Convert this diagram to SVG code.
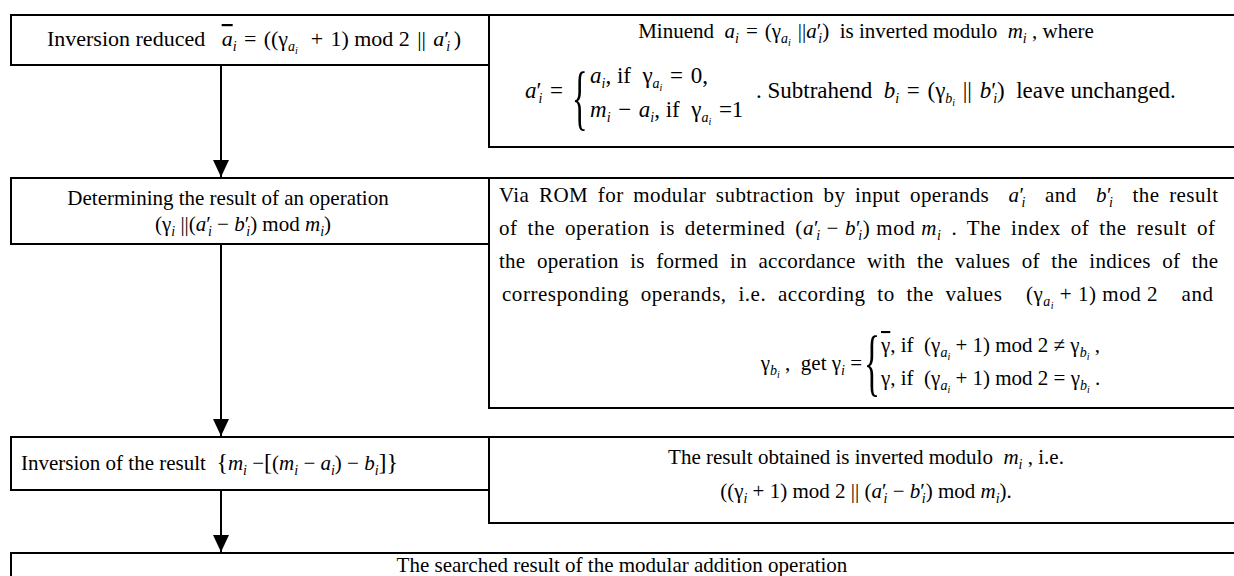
<svg xmlns="http://www.w3.org/2000/svg" width="1234" height="576" viewBox="0 0 1234 576">
  <style>
    .t { font-family: "Liberation Serif", "Times New Roman", serif; font-size: 21px; fill: #000; }
    .m { font-size: 23px; }
    .h { font-size: 22px; }
    .i { font-style: italic; }
    .sb { font-size: 14px; }
    .ss { font-size: 10px; }
    .ov { text-decoration: overline; }
    .br { font-family: "Liberation Serif", "Times New Roman", serif; fill: #000; }
    .box { fill: #fff; stroke: #000; stroke-width: 2; }
    .arr { fill: none; stroke: #000; stroke-width: 2; }
  </style>
  <defs>
    <marker id="ah" viewBox="0 0 17 16" refX="17" refY="8" markerWidth="17" markerHeight="16" markerUnits="userSpaceOnUse" orient="auto">
      <polygon points="0,0 17,8 0,16" fill="#000"/>
    </marker>
  </defs>
  <rect width="1234" height="576" fill="#fff"/>

  <!-- step 1: inversion of the minuend -->
  <g id="step1">
    <rect class="box" x="11" y="15" width="478" height="50"/>
    <text class="t h" x="254" y="46" text-anchor="middle">Inversion reduced&#160;&#160; <tspan class="i ov">a</tspan><tspan class="sb i" dy="5">i</tspan><tspan dy="-5">&#8196;=&#8196;((γ</tspan><tspan class="sb i" dy="5">a</tspan><tspan class="ss i" dy="3">i</tspan><tspan dy="-8">&#8196;&#8197;+&#8196;1)&#8197;mod&#8197;2&#8196;||&#8196;</tspan><tspan class="i">a</tspan>′<tspan class="sb i" dx="-3" dy="5">i</tspan><tspan dy="-5">&#8198;)</tspan></text>
  </g>
  <g id="step1-note">
    <rect class="box" x="489" y="15" width="760" height="132"/>
    <text class="t" x="866" y="38" text-anchor="middle">Minuend&#160; <tspan class="i">a</tspan><tspan class="sb i" dy="5">i</tspan><tspan dy="-5">&#8196;=&#8196;(γ</tspan><tspan class="sb i" dy="5">a</tspan><tspan class="ss i" dy="3">i</tspan><tspan dy="-8">&#8196;||</tspan><tspan class="i">a</tspan>′<tspan class="sb i" dx="-3" dy="5">i</tspan><tspan dy="-5">)&#160; is inverted modulo&#160; </tspan><tspan class="i">m</tspan><tspan class="sb i" dy="5">i</tspan><tspan dy="-5"> , where</tspan></text>
    <text class="t m" x="525" y="98"><tspan class="i">a</tspan>′<tspan class="sb i" dx="-3" dy="5">i</tspan><tspan dy="-5">&#8196;=</tspan></text>
    <text class="br" font-size="72" transform="translate(572,121) scale(0.45,1)">{</text>
    <text class="t m" x="590" y="83"><tspan class="i">a</tspan><tspan class="sb i" dy="5">i</tspan><tspan dy="-5">, if&#160; γ</tspan><tspan class="sb i" dy="5">a</tspan><tspan class="ss i" dy="3">i</tspan><tspan dy="-8">&#8196;=&#8196;0,</tspan></text>
    <text class="t m" x="590" y="117"><tspan class="i">m</tspan><tspan class="sb i" dy="5">i</tspan><tspan dy="-5">&#8196;−&#8196;</tspan><tspan class="i">a</tspan><tspan class="sb i" dy="5">i</tspan><tspan dy="-5">, if&#160; γ</tspan><tspan class="sb i" dy="5">a</tspan><tspan class="ss i" dy="3">i</tspan><tspan dy="-8">&#8196;=1</tspan></text>
    <text class="t m" x="756" y="98">. Subtrahend&#160; <tspan class="i">b</tspan><tspan class="sb i" dy="5">i</tspan><tspan dy="-5">&#8196;=&#8196;(γ</tspan><tspan class="sb i" dy="5">b</tspan><tspan class="ss i" dy="3">i</tspan><tspan dy="-8">&#8196;||&#8196;</tspan><tspan class="i">b</tspan>′<tspan class="sb i" dx="-3" dy="5">i</tspan><tspan dy="-5">)&#160; leave unchanged.</tspan></text>
  </g>

  <!-- step 2: modular subtraction via ROM -->
  <g id="step2">
    <rect class="box" x="11" y="178" width="478" height="66"/>
    <text class="t" x="228" y="205" text-anchor="middle">Determining the result of an operation</text>
    <text class="t" x="243" y="231" text-anchor="middle">(γ<tspan class="sb i" dy="5">i</tspan><tspan dy="-5">&#8197;||(</tspan><tspan class="i">a</tspan>′<tspan class="sb i" dx="-3" dy="5">i</tspan><tspan dy="-5">&#8197;−&#8197;</tspan><tspan class="i">b</tspan>′<tspan class="sb i" dx="-3" dy="5">i</tspan><tspan dy="-5">)&#8197;mod&#8197;</tspan><tspan class="i">m</tspan><tspan class="sb i" dy="5">i</tspan><tspan dy="-5">)</tspan></text>
  </g>
  <g id="step2-note">
    <rect class="box" x="489" y="178" width="760" height="230"/>
    <text class="t" x="499" y="202" word-spacing="4" textLength="719" lengthAdjust="spacing">Via ROM for modular subtraction by input operands&#160; <tspan class="i">a</tspan>′<tspan class="sb i" dx="-3" dy="5">i</tspan><tspan dy="-5">&#160; and&#160; </tspan><tspan class="i">b</tspan>′<tspan class="sb i" dx="-3" dy="5">i</tspan><tspan dy="-5">&#160; the result</tspan></text>
    <text class="t" x="499" y="235" word-spacing="4" textLength="716" lengthAdjust="spacing">of the operation is determined <tspan>(</tspan><tspan class="i">a</tspan>′<tspan class="sb i" dx="-3" dy="5">i</tspan><tspan dy="-5">&#8197;−&#8197;</tspan><tspan class="i">b</tspan>′<tspan class="sb i" dx="-3" dy="5">i</tspan><tspan dy="-5">)&#8197;mod&#8197;</tspan><tspan class="i">m</tspan><tspan class="sb i" dy="5">i</tspan><tspan dy="-5"> . The index of the result of</tspan></text>
    <text class="t" x="499" y="268" word-spacing="6" textLength="719" lengthAdjust="spacing">the operation is formed in accordance with the values of the indices of the</text>
    <text class="t" x="502" y="301" word-spacing="6" textLength="711" lengthAdjust="spacing">corresponding operands, i.e. according to the values&#160; (γ<tspan class="sb i" dy="5">a</tspan><tspan class="ss i" dy="3">i</tspan><tspan dy="-8">&#8197;+&#8197;1)&#8197;mod&#8197;2&#160; and</tspan></text>
    <text class="t" x="862" y="370" text-anchor="end">γ<tspan class="sb i" dy="5">b</tspan><tspan class="ss i" dy="3">i</tspan><tspan dy="-8"> ,&#160; get&#8197;γ</tspan><tspan class="sb i" dy="5">i</tspan><tspan dy="-5">&#8197;=</tspan></text>
    <text class="br" font-size="74" transform="translate(864,387) scale(0.45,1)">{</text>
    <text class="t" x="881" y="352"><tspan class="ov">γ</tspan>, if&#160; (γ<tspan class="sb i" dy="5">a</tspan><tspan class="ss i" dy="3">i</tspan><tspan dy="-8">&#8197;+&#8197;1)&#8197;mod&#8197;2&#8197;≠&#8197;γ</tspan><tspan class="sb i" dy="5">b</tspan><tspan class="ss i" dy="3">i</tspan><tspan dy="-8"> ,</tspan></text>
    <text class="t" x="881" y="385">γ, if&#160; (γ<tspan class="sb i" dy="5">a</tspan><tspan class="ss i" dy="3">i</tspan><tspan dy="-8">&#8197;+&#8197;1)&#8197;mod&#8197;2&#8197;=&#8197;γ</tspan><tspan class="sb i" dy="5">b</tspan><tspan class="ss i" dy="3">i</tspan><tspan dy="-8"> .</tspan></text>
  </g>

  <!-- step 3: inversion of the result -->
  <g id="step3">
    <rect class="box" x="11" y="437" width="478" height="53"/>
    <text class="t" x="21" y="470">Inversion of the result&#160; <tspan font-size="24">{</tspan><tspan class="i">m</tspan><tspan class="sb i" dy="5">i</tspan><tspan dy="-5">&#8197;−</tspan><tspan font-size="24">[</tspan><tspan>(</tspan><tspan class="i">m</tspan><tspan class="sb i" dy="5">i</tspan><tspan dy="-5">&#8197;−&#8197;</tspan><tspan class="i">a</tspan><tspan class="sb i" dy="5">i</tspan><tspan dy="-5">)&#8197;−&#8197;</tspan><tspan class="i">b</tspan><tspan class="sb i" dy="5">i</tspan><tspan dy="-5" font-size="24">]}</tspan></text>
  </g>
  <g id="step3-note">
    <rect class="box" x="489" y="437" width="760" height="86"/>
    <text class="t" x="866" y="464" text-anchor="middle">The result obtained is inverted modulo&#160; <tspan class="i">m</tspan><tspan class="sb i" dy="5">i</tspan><tspan dy="-5"> , i.e.</tspan></text>
    <text class="t" x="866" y="498" text-anchor="middle">((γ<tspan class="sb i" dy="5">i</tspan><tspan dy="-5">&#8197;+&#8197;1)&#8197;mod&#8197;2&#8197;||&#8197;(</tspan><tspan class="i">a</tspan>′<tspan class="sb i" dx="-3" dy="5">i</tspan><tspan dy="-5">&#8197;−&#8197;</tspan><tspan class="i">b</tspan>′<tspan class="sb i" dx="-3" dy="5">i</tspan><tspan dy="-5">)&#8197;mod&#8197;</tspan><tspan class="i">m</tspan><tspan class="sb i" dy="5">i</tspan><tspan dy="-5">).</tspan></text>
  </g>

  <!-- final result -->
  <g id="result">
    <rect class="box" x="11" y="553" width="1240" height="40"/>
    <text class="t" x="622" y="572" text-anchor="middle">The searched result of the modular addition operation</text>
  </g>

  <!-- flow arrows -->
  <g id="connectors">
    <line class="arr" x1="221" y1="65" x2="221" y2="177" marker-end="url(#ah)"/>
    <line class="arr" x1="221" y1="244" x2="221" y2="436" marker-end="url(#ah)"/>
    <line class="arr" x1="221" y1="490" x2="221" y2="552" marker-end="url(#ah)"/>
  </g>
</svg>
